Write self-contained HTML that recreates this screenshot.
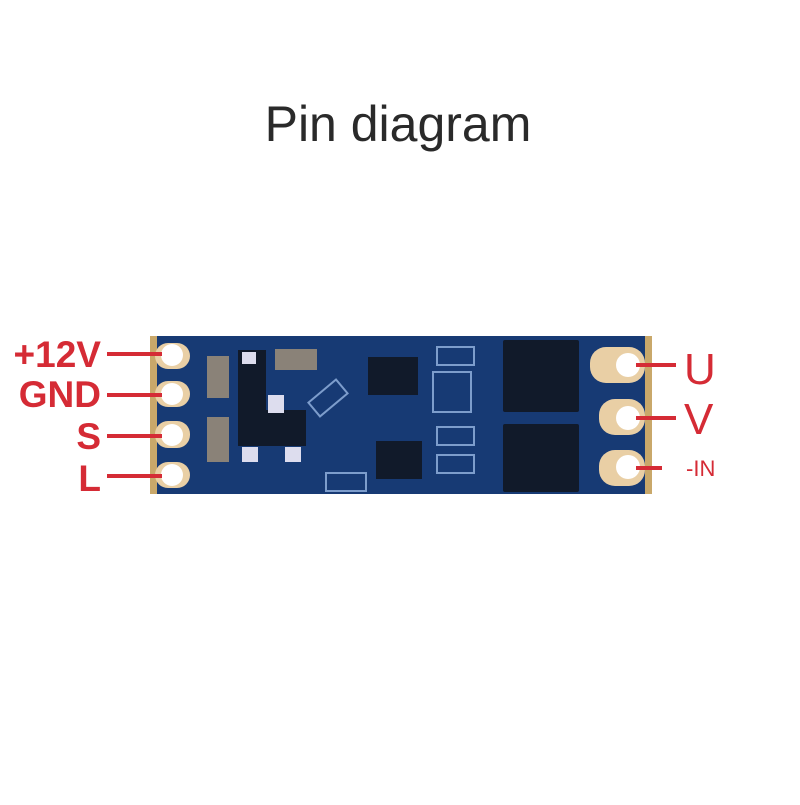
<!DOCTYPE html><html><head><style>body{margin:0;background:#fff}</style></head><body>
<svg width="800" height="800" xmlns="http://www.w3.org/2000/svg" font-family="Liberation Sans, sans-serif">
<rect width="800" height="800" fill="#fff"/>
<text x="398" y="141" font-size="50" fill="#2a2a2a" text-anchor="middle">Pin diagram</text>
<rect x="150" y="336" width="502" height="158" fill="#173a74"/>
<rect x="150" y="336" width="7" height="158" fill="#c9a86a"/>
<rect x="645" y="336" width="7" height="158" fill="#c9a86a"/>
<g fill="#e9cfa5">
<rect x="155" y="343" width="35" height="26" rx="13"/><rect x="155" y="381" width="35" height="26" rx="13"/>
<rect x="155" y="421" width="35" height="27" rx="13"/><rect x="155" y="462" width="35" height="26" rx="13"/>
<rect x="590" y="347" width="55" height="36" rx="16"/><rect x="599" y="399" width="46" height="36" rx="16"/>
<rect x="599" y="450" width="46" height="36" rx="16"/>
</g>
<g fill="#fff"><circle cx="172" cy="355" r="11"/><circle cx="172" cy="394" r="11"/><circle cx="172" cy="435" r="11"/><circle cx="172" cy="475" r="11"/>
<circle cx="628" cy="365" r="12"/><circle cx="628" cy="418" r="12"/><circle cx="628" cy="467" r="12"/></g>
<g fill="#111a2a">
<rect x="503" y="340" width="76" height="72" rx="2"/><rect x="503" y="424" width="76" height="68" rx="2"/>
<rect x="368" y="357" width="50" height="38"/><rect x="376" y="441" width="46" height="38"/>
<rect x="238" y="350" width="28" height="60"/><rect x="238" y="410" width="68" height="36"/>
</g>
<g fill="#8a8278"><rect x="207" y="356" width="22" height="42"/><rect x="207" y="417" width="22" height="45"/><rect x="275" y="349" width="42" height="21"/></g>
<g fill="none" stroke="#7d9dcc" stroke-width="2">
<rect x="437" y="347" width="37" height="18"/><rect x="433" y="372" width="38" height="40"/><rect x="437" y="427" width="37" height="18"/><rect x="437" y="455" width="37" height="18"/><rect x="326" y="473" width="40" height="18"/>
<rect x="310" y="389" width="36" height="18" transform="rotate(-40 328 398)"/>
</g>
<g fill="#dde"><rect x="242" y="352" width="14" height="12"/><rect x="268" y="395" width="16" height="18"/><rect x="242" y="447" width="16" height="15"/><rect x="285" y="447" width="16" height="15"/></g>
<g fill="#d52b35">
<rect x="107" y="352" width="55" height="4"/><rect x="107" y="393" width="55" height="4"/><rect x="107" y="434" width="55" height="4"/><rect x="107" y="474" width="55" height="4"/>
<rect x="636" y="363" width="40" height="4"/><rect x="636" y="416" width="40" height="4"/><rect x="636" y="466" width="26" height="4"/>
</g>
<g fill="#d52b35" font-weight="bold" font-size="37" text-anchor="end">
<text x="101" y="367">+12V</text><text x="101" y="407">GND</text><text x="101" y="449">S</text><text x="101" y="491">L</text>
</g>
<g fill="#d52b35" font-size="44"><text x="684" y="384">U</text><text x="684" y="434">V</text><text x="686" y="476" font-size="22">-IN</text></g>
</svg></body></html>
